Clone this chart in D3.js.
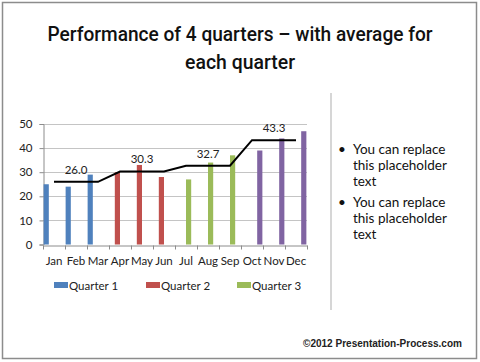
<!DOCTYPE html>
<html>
<head>
<meta charset="UTF-8">
<script src="https://cdn.jsdelivr.net/npm/d3@7"></script>
<style>
  body { margin: 0; background: #fff; }
  svg { display: block; }
</style>
</head>
<body>
<svg id="chart" width="480" height="362"></svg>
<script>
// data
var months = ["Jan", "Feb", "Mar", "Apr", "May", "Jun", "Jul", "Aug", "Sep", "Oct", "Nov", "Dec"];
var quarters = ["Quarter 1", "Quarter 2", "Quarter 3", "Quarter 4"];
var sales = [25, 24, 29, 30, 33, 28, 27, 34, 37, 39, 44, 47];
var average = [26.0, 26.0, 26.0, 30.3, 30.3, 30.3, 32.7, 32.7, 32.7, 43.3, 43.3, 43.3];
var avgLabels = [null, "26.0", null, null, "30.3", null, null, "32.7", null, null, "43.3", null];
var yTicks = [0, 10, 20, 30, 40, 50];
var legendItems = ["Quarter 1", "Quarter 2", "Quarter 3"];
var colors = ["#4f81bd", "#c0504d", "#9bbb59", "#8064a2"];

var svg = d3.select("#chart");
var fontSans = "Lato, 'Open Sans', sans-serif";

// frame
svg.append("rect")
  .attr("x", 2.5).attr("y", 2.5).attr("width", 474).attr("height", 356)
  .attr("fill", "#fff").attr("stroke", "#8c8c8c").attr("stroke-width", 1.5);

// title (condensed look via textLength)
var titleLines = [["Performance of 4 quarters \u2013 with average for", 41, 385], ["each quarter", 69, 110]];
svg.append("g").selectAll("text").data(titleLines).enter().append("text")
  .attr("x", 240).attr("y", function(d) { return d[1]; })
  .attr("text-anchor", "middle")
  .attr("font-family", "Roboto, 'Liberation Sans', sans-serif")
  .attr("font-size", 21)
  .attr("font-weight", 500)
  .attr("fill", "#111")
  .attr("textLength", function(d) { return d[2]; })
  .attr("lengthAdjust", "spacingAndGlyphs")
  .text(function(d) { return d[0]; });

// scales
var x = d3.scaleBand().domain(months).range([43, 307]);
var xs = d3.scaleBand().domain(quarters).range([0, x.bandwidth()]).paddingOuter(0.12);
var y = d3.scaleLinear().domain([0, 50]).range([244.5, 124]);

// gridlines
svg.append("g").selectAll("line").data(yTicks.slice(1)).enter().append("line")
  .attr("x1", 43).attr("x2", 307)
  .attr("y1", function(d) { return Math.round(y(d)) + 0.5; })
  .attr("y2", function(d) { return Math.round(y(d)) + 0.5; })
  .attr("stroke", "#c4c4c4").attr("stroke-width", 1);

// y axis
var yAxis = svg.append("g")
  .attr("transform", "translate(43.5,0)")
  .call(d3.axisLeft(y).tickValues(yTicks).tickSize(4).tickPadding(7));
yAxis.select(".domain").attr("stroke", "#8c8c8c");
yAxis.selectAll(".tick line").attr("stroke", "#8c8c8c");
yAxis.selectAll("text").attr("font-family", fontSans).attr("font-size", 11.5).attr("fill", "#222");

// bars
svg.append("g").selectAll("rect").data(sales).enter().append("rect")
  .attr("x", function(d, i) { return x(months[i]) + xs(quarters[Math.floor(i / 3)]); })
  .attr("width", xs.bandwidth())
  .attr("y", function(d) { return y(d); })
  .attr("height", function(d) { return y(0) - y(d); })
  .attr("fill", function(d, i) { return colors[Math.floor(i / 3)]; });

// x axis
var xAxis = svg.append("g")
  .attr("transform", "translate(0," + (Math.round(y(0)) + 0.5) + ")")
  .call(d3.axisBottom(x).tickSize(0).tickPadding(11));
xAxis.select(".domain").attr("stroke", "#8c8c8c");
xAxis.selectAll("text").attr("font-family", fontSans).attr("font-size", 11.5).attr("fill", "#222");
xAxis.append("g").selectAll("line").data(months.concat(["end"])).enter().append("line")
  .attr("x1", function(d, i) { return Math.round(43 + i * x.step()) + 0.5; })
  .attr("x2", function(d, i) { return Math.round(43 + i * x.step()) + 0.5; })
  .attr("y1", 0).attr("y2", 4)
  .attr("stroke", "#8c8c8c");

// average line
var line = d3.line()
  .x(function(d, i) { return x(months[i]) + x.bandwidth() / 2; })
  .y(function(d) { return y(d); });
svg.append("path").datum(average)
  .attr("d", line)
  .attr("fill", "none").attr("stroke", "#000").attr("stroke-width", 2);

svg.append("g").selectAll("text").data(avgLabels).enter().append("text")
  .filter(function(d) { return d !== null; })
  .attr("x", function(d) { return x(months[avgLabels.indexOf(d)]) + x.bandwidth() / 2; })
  .attr("y", function(d) { return y(+d) - 8; })
  .attr("text-anchor", "middle")
  .attr("font-family", fontSans).attr("font-size", 11.5).attr("fill", "#222")
  .text(function(d) { return d; });

// legend
var legendX = [54, 146, 237];
var legend = svg.append("g").selectAll("g").data(legendItems).enter().append("g")
  .attr("transform", function(d, i) { return "translate(" + legendX[i] + ",282)"; });
legend.append("rect").attr("width", 14).attr("height", 6)
  .attr("fill", function(d, i) { return colors[i]; });
legend.append("text").attr("x", 15).attr("y", 7.5)
  .attr("font-family", fontSans).attr("font-size", 11.5).attr("fill", "#222")
  .text(function(d) { return d; });

// separator
svg.append("line").attr("x1", 331).attr("x2", 331).attr("y1", 93).attr("y2", 310)
  .attr("stroke", "#c8c8c8").attr("stroke-width", 1.5);

// bullet text
var bullets = [["You can replace", "this placeholder", "text"], ["You can replace", "this placeholder", "text"]];
var bulletTop = [154, 207];
var bg = svg.append("g").selectAll("g").data(bullets).enter().append("g")
  .attr("transform", function(d, i) { return "translate(0," + bulletTop[i] + ")"; });
bg.append("text").attr("x", 338).attr("y", 0)
  .attr("font-family", fontSans).attr("font-size", 13.5).attr("fill", "#111").text("\u2022");
bg.selectAll("text.l").data(function(d) { return d; }).enter().append("text")
  .attr("class", "l")
  .attr("x", 353).attr("y", function(d, i) { return i * 16; })
  .attr("font-family", fontSans).attr("font-size", 13.5).attr("fill", "#111")
  .text(function(d) { return d; });

// footer
svg.append("text").attr("x", 462).attr("y", 347).attr("text-anchor", "end")
  .attr("font-family", "'Liberation Sans', Arial, sans-serif").attr("font-weight", "bold")
  .attr("font-size", 10.5).attr("fill", "#222")
  .attr("textLength", 159).attr("lengthAdjust", "spacingAndGlyphs")
  .text("\u00a92012 Presentation-Process.com");
</script>
</body>
</html>
